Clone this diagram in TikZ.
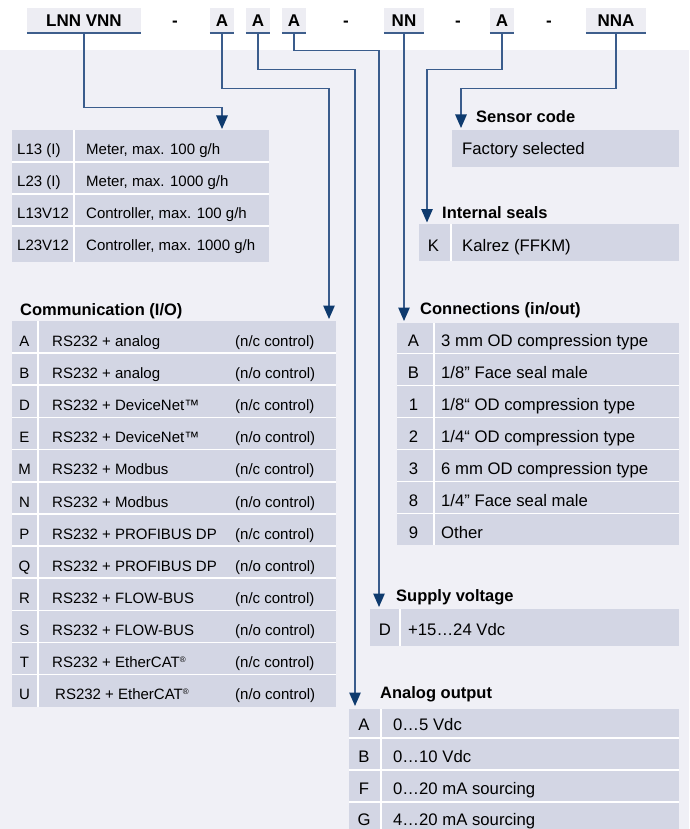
\documentclass[tikz,border=0pt]{standalone}
\usepackage{fontspec}
\setmainfont{Liberation Sans}
\usetikzlibrary{arrows.meta}

\definecolor{pagebg}{RGB}{240,240,246}
\definecolor{cellbg}{RGB}{211,214,228}
\definecolor{codebg}{RGB}{237,237,243}
\definecolor{codeblue}{RGB}{62,94,140}
\definecolor{linkblue}{RGB}{58,92,140}
\definecolor{tipblue}{RGB}{14,58,110}

\begin{document}
\begin{tikzpicture}[x=1pt, y=-1pt,
    codebox/.style={fill=codebg, inner sep=0pt, minimum height=25pt, text height=12pt, text depth=0pt, font=\fontsize{17}{17}\selectfont\bfseries},
    codedash/.style={anchor=base, inner sep=0pt, font=\fontsize{17}{17}\selectfont\bfseries},
    codeline/.style={draw=codeblue, line width=1.5pt},
    link/.style={draw=linkblue, line width=1.2pt, -{Triangle[width=11.5pt,length=13.5pt,color=tipblue]}},
    rowline/.style={draw=white, line width=1.3pt},
    head/.style={anchor=base west, inner sep=0pt, font=\fontsize{16.5}{18}\selectfont\bfseries},
    lefttxt/.style={anchor=base west, inner sep=0pt, font=\fontsize{15}{18}\selectfont},
    leftkey/.style={anchor=base, inner sep=0pt, font=\fontsize{15}{18}\selectfont},
    righttxt/.style={anchor=base west, inner sep=0pt, font=\fontsize{16.7}{18}\selectfont},
    rightkey/.style={anchor=base, inner sep=0pt, font=\fontsize{16.7}{18}\selectfont}]
    \useasboundingbox (0,0) rectangle (689,829);
    \fill[white] (0,0) rectangle (689,829);
    \fill[pagebg] (0,50.5) rectangle (689,829);

    % order code
    \node[codebox, minimum width=114pt] (lnn) at (84,20.5) {LNN VNN};
    \node[codedash] (d1) at (175,26.5) {-};
    \node[codebox, minimum width=24pt] (a1) at (222,20.5) {A};
    \node[codebox, minimum width=24pt] (a2) at (258,20.5) {A};
    \node[codebox, minimum width=24pt] (a3) at (294,20.5) {A};
    \node[codedash] (d2) at (346,26.5) {-};
    \node[codebox, minimum width=40pt] (nn) at (404,20.5) {NN};
    \node[codedash] (d3) at (458,26.5) {-};
    \node[codebox, minimum width=24pt] (a4) at (502,20.5) {A};
    \node[codedash] (d4) at (549,26.5) {-};
    \node[codebox, minimum width=60pt] (nna) at (616,20.5) {NNA};
    \draw[codeline] (lnn.south west) -- (lnn.south east) (a1.south west) -- (a1.south east)
        (a2.south west) -- (a2.south east) (a3.south west) -- (a3.south east)
        (nn.south west) -- (nn.south east) (a4.south west) -- (a4.south east)
        (nna.south west) -- (nna.south east);

    \coordinate (tmodel) at (222,129);
    \coordinate (tcomm) at (329,319);
    \coordinate (tanalog) at (355,706);
    \coordinate (tsupply) at (379,607);
    \coordinate (tconn) at (404,321);
    \coordinate (tseal) at (427,222.5);
    \coordinate (tsensor) at (461,128);

    \draw[link] (lnn.south) -- ++(0,74) -| (tmodel);
    \draw[link] (a1.south) -- ++(0,55) -| (tcomm);
    \draw[link] (a2.south) -- ++(0,36) -| (tanalog);
    \draw[link] (a3.south) -- ++(0,17) -| (tsupply);
    \draw[link] (nn.south) -- (tconn);
    \draw[link] (a4.south) -- ++(0,36) -| (tseal);
    \draw[link] (nna.south) -- ++(0,55) -| (tsensor);

    % model
    \fill[cellbg] (12,130) rectangle (269,262);
    \draw[rowline] (12,162) -- (269,162);
    \draw[rowline] (12,194) -- (269,194);
    \draw[rowline] (12,226) -- (269,226);
    \draw[rowline] (74,130) -- (74,262);
    \node[lefttxt] (mk1) at (17,154.5) {L13 (I)};
    \node[lefttxt] (mt1) at (86,154.5) {Meter, max. 100 g/h};
    \node[lefttxt] (mk2) at (17,186.5) {L23 (I)};
    \node[lefttxt] (mt2) at (86,186.5) {Meter, max. 1000 g/h};
    \node[lefttxt] (mk3) at (17,218.5) {L13V12};
    \node[lefttxt] (mt3) at (86,218.5) {Controller, max. 100 g/h};
    \node[lefttxt] (mk4) at (17,250.5) {L23V12};
    \node[lefttxt] (mt4) at (86,250.5) {Controller, max. 1000 g/h};

    % communication
    \node[head] (hcomm) at (20,315) {Communication (I/O)};
    \fill[cellbg] (12,321) rectangle (336,706.8);
    \draw[rowline] (12,353) -- (336,353);
    \draw[rowline] (12,385) -- (336,385);
    \draw[rowline] (12,417.5) -- (336,417.5);
    \draw[rowline] (12,449.5) -- (336,449.5);
    \draw[rowline] (12,482) -- (336,482);
    \draw[rowline] (12,514) -- (336,514);
    \draw[rowline] (12,546) -- (336,546);
    \draw[rowline] (12,578) -- (336,578);
    \draw[rowline] (12,610.5) -- (336,610.5);
    \draw[rowline] (12,642.5) -- (336,642.5);
    \draw[rowline] (12,674.5) -- (336,674.5);
    \draw[rowline] (38,321) -- (38,706.8);
    \node[leftkey] (ck1) at (24.5,346) {A};
    \node[lefttxt] (ct1) at (52,346) {RS232 + analog};
    \node[lefttxt] (cn1) at (235,346) {(n/c control)};
    \node[leftkey] (ck2) at (24.5,378) {B};
    \node[lefttxt] (ct2) at (52,378) {RS232 + analog};
    \node[lefttxt] (cn2) at (235,378) {(n/o control)};
    \node[leftkey] (ck3) at (24.5,410.5) {D};
    \node[lefttxt] (ct3) at (52,410.5) {RS232 + DeviceNet™};
    \node[lefttxt] (cn3) at (235,410.5) {(n/c control)};
    \node[leftkey] (ck4) at (24.5,442.5) {E};
    \node[lefttxt] (ct4) at (52,442.5) {RS232 + DeviceNet™};
    \node[lefttxt] (cn4) at (235,442.5) {(n/o control)};
    \node[leftkey] (ck5) at (24.5,474.5) {M};
    \node[lefttxt] (ct5) at (52,474.5) {RS232 + Modbus};
    \node[lefttxt] (cn5) at (235,474.5) {(n/c control)};
    \node[leftkey] (ck6) at (24.5,507) {N};
    \node[lefttxt] (ct6) at (52,507) {RS232 + Modbus};
    \node[lefttxt] (cn6) at (235,507) {(n/o control)};
    \node[leftkey] (ck7) at (24.5,539) {P};
    \node[lefttxt] (ct7) at (52,539) {RS232 + PROFIBUS DP};
    \node[lefttxt] (cn7) at (235,539) {(n/c control)};
    \node[leftkey] (ck8) at (24.5,571) {Q};
    \node[lefttxt] (ct8) at (52,571) {RS232 + PROFIBUS DP};
    \node[lefttxt] (cn8) at (235,571) {(n/o control)};
    \node[leftkey] (ck9) at (24.5,603) {R};
    \node[lefttxt] (ct9) at (52,603) {RS232 + FLOW-BUS};
    \node[lefttxt] (cn9) at (235,603) {(n/c control)};
    \node[leftkey] (ck10) at (24.5,635.5) {S};
    \node[lefttxt] (ct10) at (52,635.5) {RS232 + FLOW-BUS};
    \node[lefttxt] (cn10) at (235,635.5) {(n/o control)};
    \node[leftkey] (ck11) at (24.5,667.5) {T};
    \node[lefttxt] (ct11) at (52,667.5) {RS232 + EtherCAT\raisebox{5pt}{\fontsize{8}{8}\selectfont ®}};
    \node[lefttxt] (cn11) at (235,667.5) {(n/c control)};
    \node[leftkey] (ck12) at (24.5,699.5) {U};
    \node[lefttxt] (ct12) at (55,699.5) {RS232 + EtherCAT\raisebox{5pt}{\fontsize{8}{8}\selectfont ®}};
    \node[lefttxt] (cn12) at (235,699.5) {(n/o control)};

    % sensor code
    \node[head] (hsensor) at (476,122.7) {Sensor code};
    \fill[cellbg] (452,130) rectangle (679,167);
    \node[righttxt] (st1) at (462,155) {Factory selected};

    % internal seals
    \node[head] (hseal) at (442,218.7) {Internal seals};
    \fill[cellbg] (419,224) rectangle (679,261);
    \draw[rowline] (451,224) -- (451,261);
    \node[rightkey] (ik1) at (433.5,251) {K};
    \node[righttxt] (it1) at (462,251) {Kalrez (FFKM)};

    % connections
    \node[head] (hconn) at (420,314) {Connections (in/out)};
    \fill[cellbg] (397,323) rectangle (679,545.3);
    \draw[rowline] (397,353.3) -- (679,353.3);
    \draw[rowline] (397,385.3) -- (679,385.3);
    \draw[rowline] (397,417.3) -- (679,417.3);
    \draw[rowline] (397,449.3) -- (679,449.3);
    \draw[rowline] (397,481.3) -- (679,481.3);
    \draw[rowline] (397,513.3) -- (679,513.3);
    \draw[rowline] (434,323) -- (434,545.3);
    \node[rightkey] (pk1) at (413.5,346.7) {A};
    \node[righttxt] (pt1) at (441,346.7) {3 mm OD compression type};
    \node[rightkey] (pk2) at (413.5,378.5) {B};
    \node[righttxt] (pt2) at (441,378.5) {1/8” Face seal male};
    \node[rightkey] (pk3) at (413.5,410.3) {1};
    \node[righttxt] (pt3) at (441,410.3) {1/8“ OD compression type};
    \node[rightkey] (pk4) at (413.5,442) {2};
    \node[righttxt] (pt4) at (441,442) {1/4“ OD compression type};
    \node[rightkey] (pk5) at (413.5,474) {3};
    \node[righttxt] (pt5) at (441,474) {6 mm OD compression type};
    \node[rightkey] (pk6) at (413.5,506) {8};
    \node[righttxt] (pt6) at (441,506) {1/4” Face seal male};
    \node[rightkey] (pk7) at (413.5,538) {9};
    \node[righttxt] (pt7) at (441,538) {Other};

    % supply voltage
    \node[head] (hsupply) at (396,601.7) {Supply voltage};
    \fill[cellbg] (370,609) rectangle (679,646);
    \draw[rowline] (400,609) -- (400,646);
    \node[rightkey] (vk1) at (385,635) {D};
    \node[righttxt] (vt1) at (408,635) {+15…24 Vdc};

    % analog output
    \node[head] (hanalog) at (380,698.3) {Analog output};
    \fill[cellbg] (349,709) rectangle (679,840);
    \draw[rowline] (349,738) -- (679,738);
    \draw[rowline] (349,770) -- (679,770);
    \draw[rowline] (349,802) -- (679,802);
    \draw[rowline] (381,709) -- (381,840);
    \node[rightkey] (ok1) at (364,730) {A};
    \node[righttxt] (ot1) at (393,730) {0…5 Vdc};
    \node[rightkey] (ok2) at (364,762.3) {B};
    \node[righttxt] (ot2) at (393,762.3) {0…10 Vdc};
    \node[rightkey] (ok3) at (364,794) {F};
    \node[righttxt] (ot3) at (393,794) {0…20 mA sourcing};
    \node[rightkey] (ok4) at (364,825.5) {G};
    \node[righttxt] (ot4) at (393,825.5) {4…20 mA sourcing};
\end{tikzpicture}
\end{document}
